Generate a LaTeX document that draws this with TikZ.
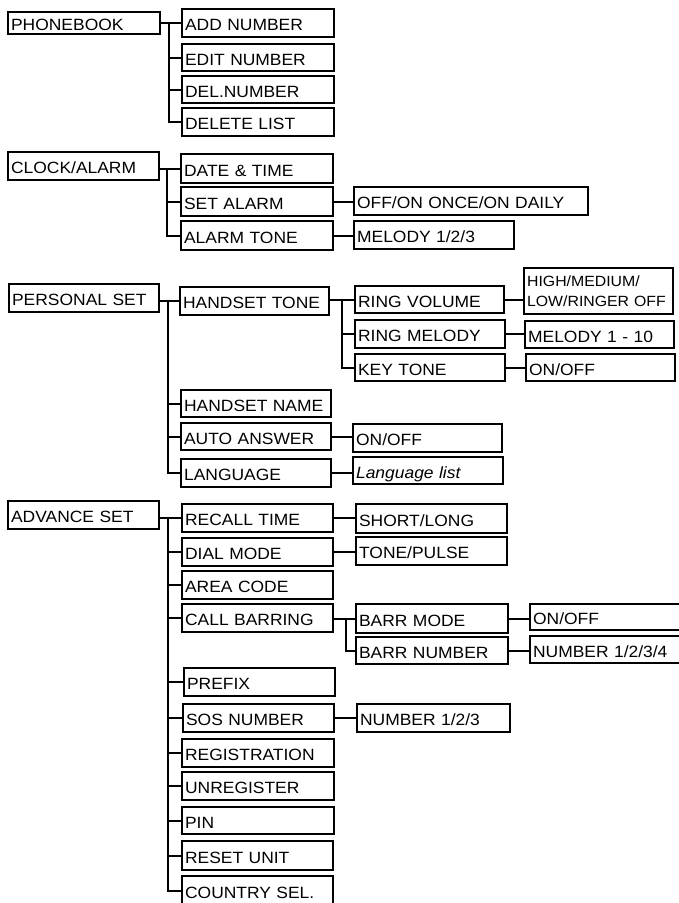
\documentclass[tikz,border=0pt]{standalone}
\usepackage{fontspec}
\setmainfont{Liberation Sans}[FakeStretch=1.07]
\tikzset{
  box/.style={draw, line width=2.2pt, anchor=north west, inner xsep=3pt, inner ysep=0pt,
    align=left, text height=15pt, text depth=0pt, font=\fontsize{16.3pt}{20pt}\selectfont},
  link/.style={line width=2pt}
}
% #1 options, #2 name, #3 x1, #4 y1, #5 x2, #6 y2, #7 text
\newcommand\bx[7][]{%
  \pgfmathsetmacro\bxw{#5-#3-6}\pgfmathsetmacro\bxh{#6-#4}%
  \node[box, text width=\bxw pt, minimum height=\bxh pt, #1] (#2) at (#3pt,-#4pt) {#7};}
\begin{document}
\begin{tikzpicture}
\useasboundingbox (0pt,0pt) rectangle (679pt,-903pt);
\clip (0pt,0pt) rectangle (679pt,-903pt);
% ---------- PHONEBOOK
\bx{PB}{7}{11}{159}{33}{PHONEBOOK}
\bx{ADD}{181}{8}{333}{36}{ADD NUMBER}
\bx{EDIT}{181}{43}{333}{70}{EDIT NUMBER}
\bx{DELN}{181}{75}{333}{102}{DEL.NUMBER}
\bx{DELL}{181}{107}{333}{135}{DELETE LIST}
\coordinate (t1) at (169pt,0pt);
\draw[link] (PB.east |- ADD.west) -- (ADD.west);
\draw[link] (t1 |- ADD.west) -- (t1 |- DELL.west) -- (DELL.west);
\foreach \n in {EDIT,DELN} \draw[link] (t1 |- \n.west) -- (\n.west);
% ---------- CLOCK/ALARM
\bx{CA}{7}{151}{158}{179}{CLOCK/ALARM}
\bx{DT}{180}{153}{332}{182}{DATE \& TIME}
\bx{SA}{180}{186}{332}{215}{SET ALARM}
\bx{AT}{180}{220}{332}{249}{ALARM TONE}
\bx{OOO}{353}{186}{587}{214}{OFF/ON ONCE/ON DAILY}
\bx{MT}{353}{220}{513}{248}{MELODY 1/2/3}
\coordinate (t2) at (167pt,0pt);
\draw[link] (CA.east |- DT.west) -- (DT.west);
\draw[link] (t2 |- DT.west) -- (t2 |- AT.west) -- (AT.west);
\draw[link] (t2 |- SA.west) -- (SA.west);
\draw[link] (SA.east) -- (OOO.west |- SA.east);
\draw[link] (AT.east) -- (MT.west |- AT.east);
% ---------- PERSONAL SET
\bx{PS}{8}{283}{158}{311}{PERSONAL SET}
\bx{HT}{179}{286}{328}{314}{HANDSET TONE}
\bx{HN}{180}{389}{330}{416}{HANDSET NAME}
\bx{AA}{180}{422}{330}{449}{AUTO ANSWER}
\bx{LG}{180}{458}{330}{486}{LANGUAGE}
\bx{RV}{354}{285}{503}{312}{RING VOLUME}
\bx[text height=, text depth=, font=\fontsize{14.8pt}{20pt}\selectfont]{HML}{523}{267}{672}{313}{HIGH/MEDIUM/\\LOW/RINGER OFF}
\bx{RM}{354}{319}{504}{347}{RING MELODY}
\bx{MX}{524}{320}{673}{347}{MELODY 1 - 10}
\bx{KT}{354}{353}{504}{380}{KEY TONE}
\bx{OA}{525}{353}{674}{380}{ON/OFF}
\bx{OB}{352}{423}{501}{451}{ON/OFF}
\bx{LL}{352}{456}{502}{483}{\itshape Language list}
\coordinate (t3) at (168pt,0pt);
\coordinate (s3) at (342pt,0pt);
\draw[link] (PS.east |- HT.west) -- (HT.west);
\draw[link] (t3 |- HT.west) -- (t3 |- LG.west) -- (LG.west);
\foreach \n in {HN,AA} \draw[link] (t3 |- \n.west) -- (\n.west);
\draw[link] (HT.east |- RV.west) -- (RV.west);
\draw[link] (s3 |- RV.west) -- (s3 |- KT.west) -- (KT.west);
\draw[link] (s3 |- RM.west) -- (RM.west);
\draw[link] (RV.east) -- (HML.west |- RV.east);
\draw[link] (RM.east) -- (MX.west |- RM.east);
\draw[link] (KT.east) -- (OA.west |- KT.east);
\draw[link] (AA.east) -- (OB.west |- AA.east);
\draw[link] (LG.east) -- (LL.west |- LG.east);
% ---------- ADVANCE SET
\bx{AS}{7}{500}{158}{528}{ADVANCE SET}
\bx{RT}{181}{503}{332}{531}{RECALL TIME}
\bx{DM}{181}{537}{332}{565}{DIAL MODE}
\bx{AC}{181}{570}{332}{598}{AREA CODE}
\bx{CB}{181}{603}{332}{631}{CALL BARRING}
\bx{PF}{183}{667}{334}{695}{PREFIX}
\bx{SOS}{182}{703}{333}{731}{SOS NUMBER}
\bx{REG}{181}{738}{333}{766}{REGISTRATION}
\bx{UNR}{181}{771}{333}{799}{UNREGISTER}
\bx{PIN}{181}{806}{333}{833}{PIN}
\bx{RU}{181}{840}{332}{869}{RESET UNIT}
\bx{CS}{181}{875}{332}{905}{COUNTRY SEL.}
\bx{SL}{355}{503}{506}{532}{SHORT/LONG}
\bx{TP}{355}{536}{506}{564}{TONE/PULSE}
\bx{BM}{355}{603}{507}{632}{BARR MODE}
\bx{BN}{355}{636}{507}{663}{BARR NUMBER}
\bx{OC}{529}{603}{683}{629}{ON/OFF}
\bx{NF}{529}{635}{683}{662}{NUMBER 1/2/3/4}
\bx{NT}{356}{703}{509}{731}{NUMBER 1/2/3}
\coordinate (t4) at (168pt,0pt);
\coordinate (s4) at (346pt,0pt);
\draw[link] (AS.east |- RT.west) -- (RT.west);
\draw[link] (t4 |- RT.west) -- (t4 |- CS.west) -- (CS.west);
\foreach \n in {DM,AC,CB,PF,SOS,REG,UNR,PIN,RU} \draw[link] (t4 |- \n.west) -- (\n.west);
\draw[link] (RT.east) -- (SL.west |- RT.east);
\draw[link] (DM.east) -- (TP.west |- DM.east);
\draw[link] (CB.east |- BM.west) -- (BM.west);
\draw[link] (s4 |- BM.west) -- (s4 |- BN.west) -- (BN.west);
\draw[link] (BM.east) -- (OC.west |- BM.east);
\draw[link] (BN.east) -- (NF.west |- BN.east);
\draw[link] (SOS.east) -- (NT.west |- SOS.east);
\end{tikzpicture}
\end{document}
